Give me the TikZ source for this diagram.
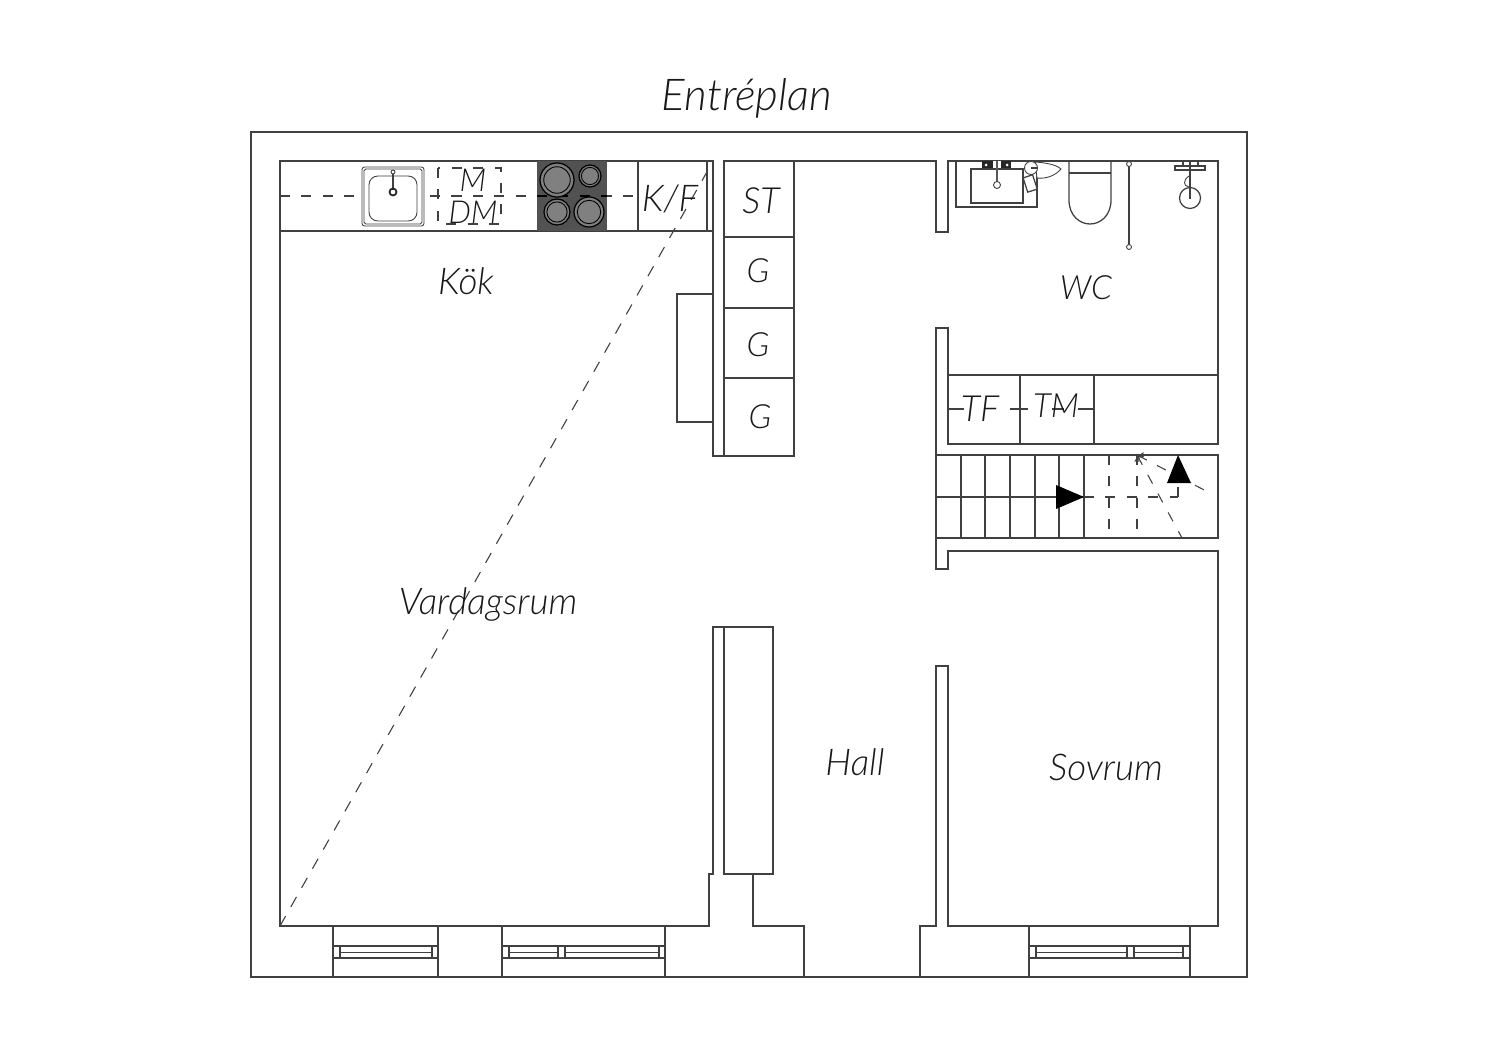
\documentclass[tikz,border=0pt]{standalone}
\usepackage{fontspec}
\setmainfont{Lato}[ItalicFont={Lato Light Italic}]
\usetikzlibrary{arrows.meta}
\tikzset{
    wall/.style={draw=black!75, line width=0.72pt},
    thinline/.style={draw=black!75, line width=0.5pt},
    dashline/.style={draw=black!75, line width=0.6pt, dash pattern=on 5.7pt off 6.5pt},
    longdash/.style={draw=black!75, line width=0.62pt, dash pattern=on 6.5pt off 6pt},
    roomlabel/.style={font=\fontsize{21}{23}\selectfont\itshape, text=black!90, inner sep=0pt},
    unitlabel/.style={font=\fontsize{19}{21}\selectfont\itshape, text=black!90, inner sep=0pt},
    burner/.style={draw=black, line width=0.7pt, fill=black!50},
}
\begin{document}
\begin{tikzpicture}[x=0.02cm, y=-0.02cm]
    \useasboundingbox (0,0) rectangle (1500,1060);
    \draw[wall] (251,132) rectangle (1247,977);

    \draw[wall] (280,161) -- (280,926) -- (709,926) -- (709,874) -- (713,874) -- (713,627) -- (724,627);
    \draw[wall] (724,627) rectangle (773,874);
    \draw[wall] (753,874) -- (753,926) -- (804,926) -- (804,977);
    \draw[wall] (920,977) -- (920,926) -- (936,926) -- (936,666) -- (948,666) -- (948,926) -- (1218,926) -- (1218,551) -- (948,551) -- (948,569) -- (936,569) -- (936,328) -- (948,328) -- (948,375);
    \draw[wall] (713,161) -- (713,456) -- (794,456) -- (794,161) -- (724,161) -- (724,456);
    \draw[wall] (794,161) -- (936,161) -- (936,232) -- (948,232) -- (948,161) -- (1218,161) -- (1218,375);
    \draw[wall] (724,237) -- (794,237);
    \draw[wall] (724,308) -- (794,308);
    \draw[wall] (724,378) -- (794,378);
    \draw[wall] (713,294) -- (677,294) -- (677,422) -- (713,422);

    % kitchen
    \draw[wall] (280,161) rectangle (713,231);
    \draw[wall] (638,161) -- (638,231);
    \draw[wall] (707,161) -- (707,231);
    \draw[dashline] (280,196) -- (638,196);
    \draw[dashline] (438,168) rectangle (501,224);
    \draw[thinline, rounded corners=1.5pt, fill=white] (362,167) rectangle (424,226);
    \draw[thinline, rounded corners=1pt] (364,169) rectangle (422,224);
    \draw[thinline, rounded corners=5pt] (369,176) rectangle (417,221);
    \draw[line width=1.3pt, black!75] (393,173) -- (393,190);
    \draw[thinline, fill=white] (393,172) circle (2);
    \draw[line width=1pt, black!85] (393,192) circle (3.5);
    \fill[black!68] (537,161) rectangle (607,231);
    \draw[dashline, black] (537,196) -- (607,196);
    \foreach \bx/\by/\br in {557/180/17, 590/176/11, 557/212/13, 589/212/15} {
        \draw[burner] (\bx,\by) circle (\br);
        \draw[black, line width=0.5pt] (\bx,\by) circle (\br*0.78);
    }

    % wc
    \draw[wall] (956,161) -- (956,207) -- (1037,207) -- (1037,161);
    \draw[wall] (971,169) rectangle (1023,203);
    \fill[black!85] (982,161) rectangle (1011,168);
    \fill[white] (986,165) circle (1.5) (1007,165) circle (1.5);
    \fill[white] (993,161) rectangle (1001,168);
    \draw[line width=1.3pt, black!65] (997,161) -- (997,182);
    \draw[thinline, fill=white] (997,185) circle (3.5);
    \draw[thinline, fill=white] (1035,162) .. controls (1050,163) and (1058,166) .. (1061,169) .. controls (1055,176) and (1046,179) .. (1037,178) -- cycle;
    \draw[thinline, fill=white] (1031,168) circle (6.5);
    \draw[wall] (1031,168) -- (1037,168);
    \draw[wall, fill=white, rotate around={18:(1030,183)}] (1025,176) rectangle (1035,191);
    \draw[wall] (1069,161) -- (1069,200) .. controls (1069,216) and (1080,224) .. (1090,224) .. controls (1100,224) and (1111,216) .. (1111,200) -- (1111,161);
    \draw[wall] (1069,173) -- (1111,173);
    \draw[line width=1.3pt, black!75] (1129,164) -- (1129,247);
    \draw[thinline, fill=white] (1129,164) circle (2.5);
    \draw[thinline, fill=white] (1129,247) circle (2.5);
    \draw[wall] (1175,166) rectangle (1205,170);
    \draw[wall] (1183,161) rectangle (1198,166);
    \draw[line width=1.3pt, black!75] (1190,161) -- (1190,199);
    \draw[thinline] (1189,176) .. controls (1183,180) and (1183,186) .. (1189,187);
    \draw[wall] (1190,198) circle (10.5);

    % laundry
    \draw[wall] (948,375) rectangle (1218,444);
    \draw[wall] (1020,375) -- (1020,444);
    \draw[wall] (1094,375) -- (1094,444);
    \draw[wall] (948,409) -- (964,409);
    \draw[wall] (1010,409) -- (1028,409);
    \draw[wall] (1078,409) -- (1094,409);
    \draw[wall] (1052,409) -- (1064,409);

    % stairs
    \draw[wall] (936,455) rectangle (1218,538);
    \foreach \sx in {961,985,1010,1035,1059,1084} {
        \draw[wall] (\sx,455) -- (\sx,538);
    }
    \draw[wall] (936,497) -- (1084,497);
    \draw[dashline] (1084,497) -- (1178,497);
    \draw[dashline] (1178,497) -- (1178,483);
    \draw[dashline] (1109,455) -- (1109,538);
    \draw[dashline] (1137,455) -- (1137,538);
    \draw[dashline, <-] (1137,455) -- (1208,492);
    \draw[dashline, <-] (1137,455) -- (1182,538);
    \fill[black] (1056,485) -- (1084,497) -- (1056,509) -- cycle;
    \fill[black] (1178,455) -- (1191,483) -- (1167,483) -- cycle;

    % windows
    \foreach \wa/\wb/\wc/\wd in {333/438/340/432, 502/665/509/659, 1029/1190/1036/1183} {
        \draw[wall] (\wa,926) -- (\wa,977);
        \draw[wall] (\wb,926) -- (\wb,977);
        \draw[wall] (\wa,946) -- (\wb,946);
        \draw[wall] (\wa,958) -- (\wb,958);
        \draw[wall] (\wc,946) -- (\wc,958);
        \draw[wall] (\wd,946) -- (\wd,958);
        \draw[thinline] (\wc,952) -- (\wd,952);
    }
    \fill[white] (559,947) rectangle (564,957) (1128,947) rectangle (1133,957);
    \foreach \wx in {558,565,1127,1134} {
        \draw[wall] (\wx,946) -- (\wx,958);
    }

    \draw[longdash] (280,926) -- (712,163);

    \node[font=\fontsize{25}{27}\selectfont\itshape, text=black!90, inner sep=0pt] (title) at (747,98) {Entréplan};
    \node[roomlabel] (kok) at (466,281) {Kök};
    \node[roomlabel] (vardagsrum) at (488,604) {Vardagsrum};
    \node[roomlabel] (hall) at (855,762) {Hall};
    \node[roomlabel] (sovrum) at (1106,767) {Sovrum};
    \node[roomlabel, font=\fontsize{19}{21}\selectfont\itshape] (wc) at (1086,288) {WC};
    \node[unitlabel, font=\fontsize{20.5}{22}\selectfont\itshape] (st) at (761,201) {ST};
    \node[unitlabel] (ga) at (758,271) {G};
    \node[unitlabel] (gb) at (758,345) {G};
    \node[unitlabel] (gc) at (760,417) {G};
    \node[unitlabel, font=\fontsize{21}{23}\selectfont\itshape] (kf) at (670,199) {K/F};
    \node[unitlabel, font=\fontsize{18}{20}\selectfont\itshape] (m) at (473,180) {M};
    \node[unitlabel, font=\fontsize{18}{20}\selectfont\itshape] (dm) at (473,212) {DM};
    \node[unitlabel, font=\fontsize{20.5}{22}\selectfont\itshape] (tf) at (980,409) {TF};
    \node[unitlabel] (tm) at (1056,406) {TM};
\end{tikzpicture}
\end{document}
